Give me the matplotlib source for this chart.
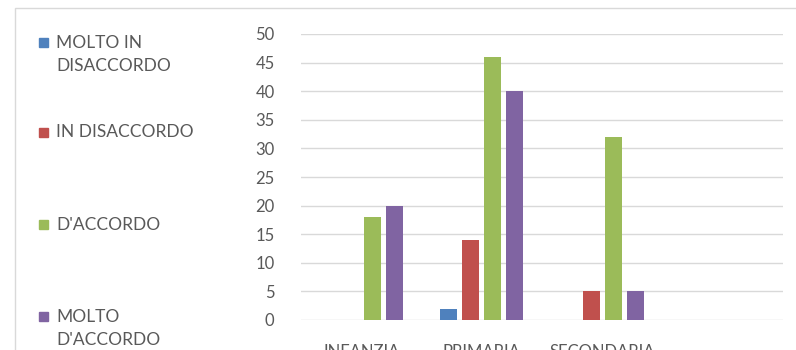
import numpy as np
import matplotlib.pyplot as plt
from matplotlib.patches import Rectangle

plt.rcParams['font.family'] = ['Lato', 'DejaVu Sans']

categories = ['INFANZIA', 'PRIMARIA', 'SECONDARIA', '']
series = ['MOLTO IN\nDISACCORDO', 'IN DISACCORDO', "D'ACCORDO", "MOLTO\nD'ACCORDO"]
molto_disaccordo = [0, 2, 0, 0]
disaccordo = [0, 14, 5, 0]
accordo = [18, 46, 32, 0]
molto_accordo = [20, 40, 5, 0]
values = [molto_disaccordo, disaccordo, accordo, molto_accordo]
colors = ['#4F81BD', '#C0504D', '#9BBB59', '#8064A2']

W, H = 796, 350
fig = plt.figure(figsize=(W / 100, H / 100), dpi=100)

# outer chart frame (only top and left visible)
fig.patches.append(Rectangle((15 / W, -0.1), 1.0, (H - 8) / H + 0.1, transform=fig.transFigure,
                             fill=False, edgecolor='#d9d9d9', linewidth=1.0))

ax = fig.add_axes([301 / W, 30 / H, 482 / W, 286 / H])
x = np.arange(len(categories))
step = 0.1826
width = 0.141
for i, (vals, c) in enumerate(zip(values, colors)):
    vals = np.array(vals, dtype=float)
    ax.bar(x + (i - 1.5) * step, np.where(vals > 0, vals, np.nan), width=width, color=c, zorder=3)

ax.set_xlim(-0.5, len(categories) - 0.5)
ax.set_ylim(0, 50)
ax.set_yticks(range(0, 51, 5))
ax.set_xticks(x)
ax.set_xticklabels(categories)
ax.grid(axis='y', color='#d9d9d9', linewidth=1.0, zorder=0)
for s in ax.spines.values():
    s.set_visible(False)
ax.tick_params(axis='both', length=0, labelsize=12, labelcolor='#595959')
ax.tick_params(axis='y', pad=19)
ax.tick_params(axis='x', pad=17)

# legend on the left
leg_y = [42, 132, 224, 316]
for lab, c, yy in zip(series, colors, leg_y):
    fig.patches.append(Rectangle((39 / W, 1 - (yy + 4.5) / H), 9 / W, 9 / H,
                                 transform=fig.transFigure, color=c))
    fig.text(56.5 / W, 1 - (yy - 7.5) / H, lab, ha='left', va='top', fontsize=12.5,
             color='#595959', linespacing=1.55)

fig.savefig('out.png', dpi=100)
